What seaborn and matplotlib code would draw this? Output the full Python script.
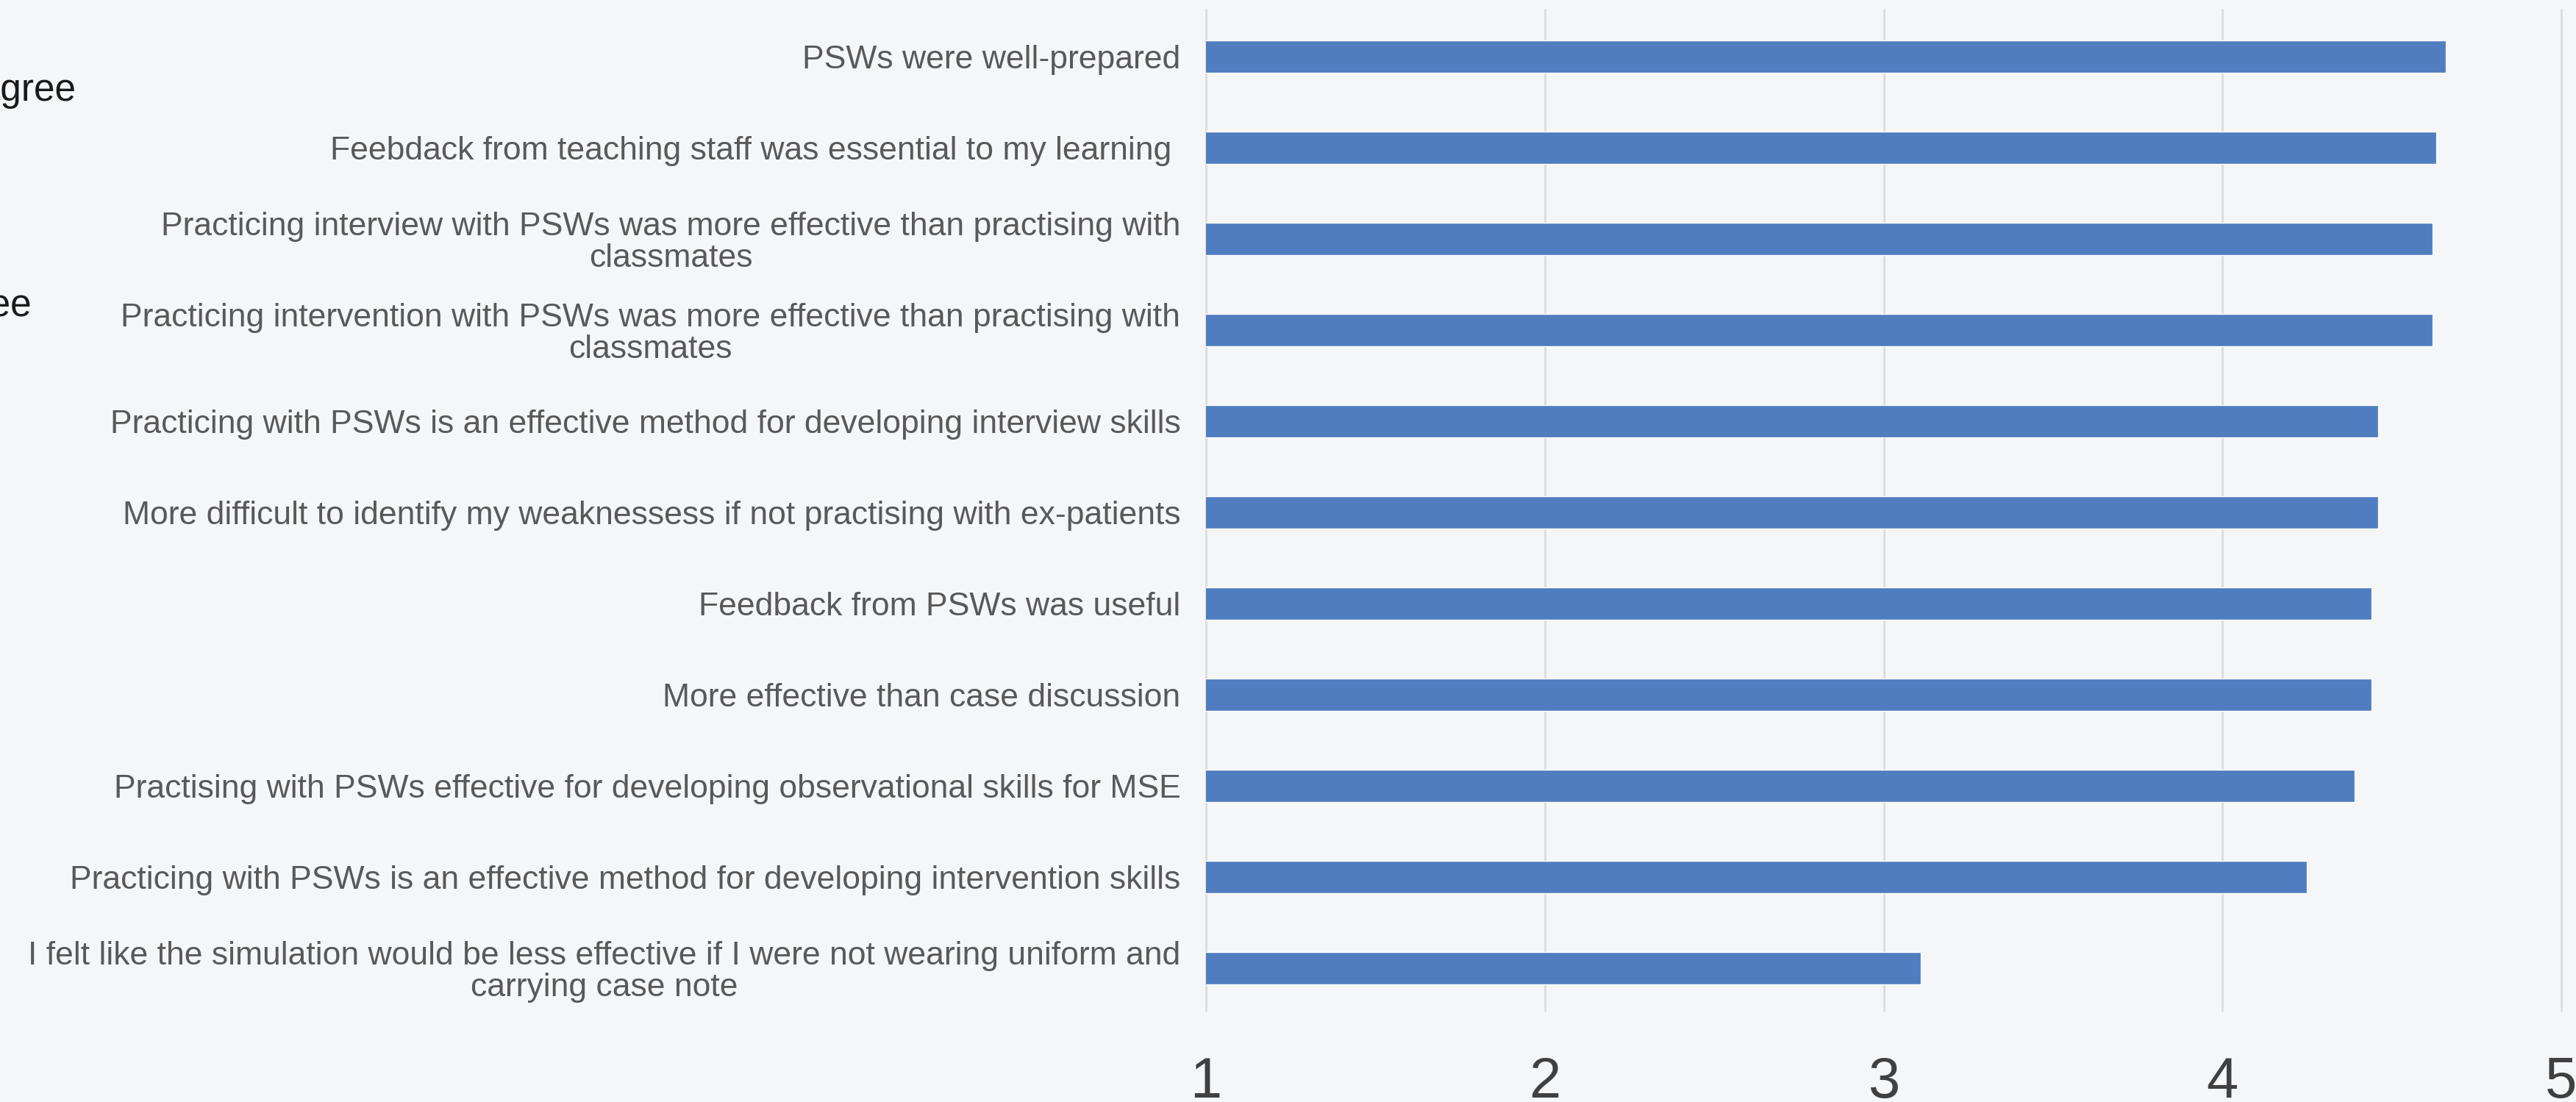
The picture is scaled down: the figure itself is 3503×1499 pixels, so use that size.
import matplotlib
matplotlib.use("Agg")
import matplotlib.pyplot as plt
import seaborn as sns
import pandas as pd

# ---- data ----
statements = [
    "PSWs were well-prepared",
    "Feebdack from teaching staff was essential to my learning ",
    "Practicing interview with PSWs was more effective than practising with\nclassmates",
    "Practicing intervention with PSWs was more effective than practising with\nclassmates",
    "Practicing with PSWs is an effective method for developing interview skills",
    "More difficult to identify my weaknessess if not practising with ex-patients",
    "Feedback from PSWs was useful",
    "More effective than case discussion",
    "Practising with PSWs effective for developing observational skills for MSE",
    "Practicing with PSWs is an effective method for developing intervention skills",
    "I felt like the simulation would be less effective if I were not wearing uniform and\ncarrying case note",
]
mean_scores = [4.66, 4.63, 4.62, 4.62, 4.46, 4.46, 4.44, 4.44, 4.39, 4.25, 3.11]
x_ticks = [1, 2, 3, 4, 5]
legend_fragments = ["5 = Strongly agree", "2 = Disagree"]
footer_fragment = "PSSM"

# ---- style ----
bg = "#f5f6f8"
bar_color = "#507dbf"
grid_color = "#dcdcdc"

sns.set_theme(style="whitegrid")
plt.rcParams["font.family"] = ["Liberation Sans", "DejaVu Sans"]

W, H = 3503, 1499
fig = plt.figure(figsize=(W / 100, H / 100), dpi=100, facecolor=bg)
left_px, right_px, top_px, bot_px = 1640, 3495, 13, 1375
ax = fig.add_axes([left_px / W, 1 - bot_px / H, (right_px - left_px) / W, (bot_px - top_px) / H])
ax.set_facecolor(bg)

df = pd.DataFrame({"statement": statements, "score": mean_scores})
sns.barplot(data=df, x="score", y="statement", orient="h", color=bar_color,
            saturation=1, width=0.36, ax=ax, zorder=2)

px_per_unit = (3483 - 1640) / 4.0
ax.set_xlim(1, 5 + (right_px - 3483) / px_per_unit)
ax.set_ylim(10.468, -0.516)
ax.set_xticks(x_ticks)
ax.set_xticklabels([str(t) for t in x_ticks])
ax.set_xlabel("")
ax.set_ylabel("")
ax.set_axisbelow(True)
ax.grid(axis="x", color=grid_color, linewidth=2.0)
ax.grid(axis="y", visible=False)
for l in ax.get_xgridlines():
    l.set_clip_on(False)
for s in ax.spines.values():
    s.set_visible(False)

ax.tick_params(axis="x", length=0, pad=44, labelsize=56, labelcolor="#404040")
ax.tick_params(axis="y", length=0, pad=25, labelcolor="#595959")
for t in ax.get_yticklabels():
    t.set_multialignment("center")
    t.set_fontsize(32)
    t.set_linespacing(1.05)

# cropped legend fragments at left edge
fig.text(103 / W, 1 - 137 / H, legend_fragments[0], ha="right", va="baseline",
         fontsize=37, color="#1a1a1a")
fig.text(43 / W, 1 - 430 / H, legend_fragments[1], ha="right", va="baseline",
         fontsize=37, color="#1a1a1a")
# cropped orange footer fragment (only its top edge shows)
fig.text(1187 / W, 1 - 1496 / H, footer_fragment, ha="left", va="top",
         fontsize=64, color="#e8772e", fontweight="bold")

fig.savefig("out.png", dpi=100, facecolor=bg)
